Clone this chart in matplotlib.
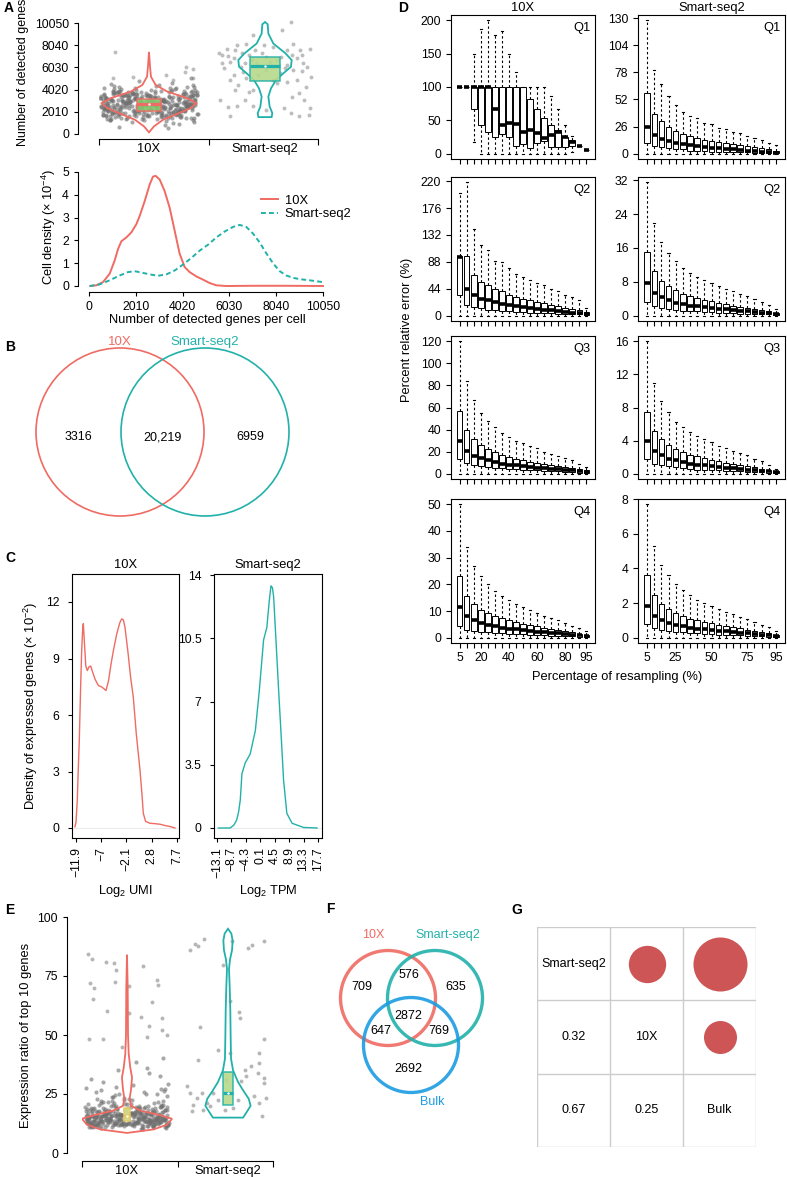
import numpy as np
import matplotlib
matplotlib.use('Agg')
import matplotlib.pyplot as plt
from matplotlib.patches import Circle, Rectangle

plt.rcParams['font.family'] = ['Liberation Sans', 'DejaVu Sans']
plt.rcParams['mathtext.fontset'] = 'custom'
plt.rcParams['mathtext.rm'] = 'Liberation Sans'
plt.rcParams['mathtext.it'] = 'Liberation Sans:italic'
plt.rcParams['font.size'] = 9
plt.rcParams['axes.linewidth'] = 0.8
plt.rcParams['xtick.major.width'] = 0.8
plt.rcParams['ytick.major.width'] = 0.8
plt.rcParams['xtick.major.size'] = 3
plt.rcParams['ytick.major.size'] = 3
plt.rcParams['xtick.labelsize'] = 8.8
plt.rcParams['ytick.labelsize'] = 8.8

RED = '#EF6B63'
TEAL = '#22B1AA'
BLUE = '#1C9BE2'
GREY = '#6f6f6f'
LAB = 9.3

# ---------------- data ----------------
groups = ['10X', 'Smart-seq2']

# jitter offsets used for the 10X point clouds
jit_10x = [-0.38, 0.12, -0.05, 0.33, -0.21, 0.27, -0.33, 0.02, 0.19, -0.14,
           0.40, -0.27, 0.08, -0.41, 0.23, -0.09, 0.35, -0.18, 0.15, -0.30,
           0.05, 0.29, -0.36, 0.21, -0.02, -0.24, 0.38, 0.10, -0.12, 0.31,
           -0.19, 0.17, -0.39, 0.26, 0.00, -0.29, 0.36, -0.07, 0.22, -0.34,
           0.09, -0.16, 0.41, -0.25, 0.14, -0.37, 0.30, -0.03, 0.24, -0.11,
           0.34, -0.40, 0.06, -0.20, 0.28, -0.32, 0.18, -0.08, 0.39, -0.26,
           0.01, 0.25, -0.15, 0.37, -0.35, 0.11, -0.23, 0.32, -0.01, 0.20,
           -0.28, 0.07, -0.42, 0.16, 0.36, -0.10, 0.27, -0.31, 0.04, -0.17,
           0.22, -0.06, 0.40, -0.38, 0.13, -0.26, 0.33, -0.13, 0.08, 0.29,
           -0.22, 0.18, -0.34, 0.03, 0.41, -0.04, 0.24, -0.39, 0.15, -0.27,
           0.32, -0.12, 0.10, -0.30, 0.20, -0.18, 0.38, -0.08, 0.26, -0.36,
           0.06, -0.24, 0.35, -0.01, 0.17, -0.41, 0.12, -0.20, 0.30, -0.05,
           -0.33, 0.23, -0.11, 0.39, -0.28, 0.02, 0.31, -0.16, 0.09, -0.37,
           0.14, -0.02, 0.28, -0.23, 0.37, -0.14, 0.19, -0.32, 0.05, 0.34,
           -0.09, 0.21, -0.40, 0.11, -0.19, 0.30, -0.06, 0.40, -0.25, 0.16,
           -0.35, 0.04, 0.26, -0.12, 0.35, -0.29, 0.13, -0.03, 0.22, -0.21,
           0.38, -0.15, 0.07, -0.34, 0.25, -0.07, 0.33, -0.38, 0.17, 0.00,
           -0.17, 0.31, -0.26, 0.10, -0.40, 0.21, -0.10, 0.36, -0.31, 0.12]

# A: detected genes per cell, 10X
a_10x_y = [2450, 3120, 1780, 2890, 3560, 2210, 1340, 2670, 3890, 2040,
           2980, 1620, 3310, 2520, 4210, 1890, 2760, 3450, 1150, 2330,
           3680, 2150, 2840, 960, 3020, 2580, 4470, 1720, 3240, 2690,
           1480, 3830, 2290, 3150, 2730, 1960, 3410, 2410, 4050, 1250,
           2870, 3570, 1830, 2480, 780, 3260, 2110, 3720, 2600, 1590,
           3360, 2020, 4330, 2780, 1690, 3050, 2350, 2930, 1410, 3640,
           2230, 3180, 1060, 3930, 2560, 1910, 3490, 2810, 2190, 4620,
           2640, 1370, 3280, 2060, 3760, 2440, 1540, 3020, 2900, 3380,
           1810, 2710, 3990, 2270, 3130, 620, 2500, 3610, 1950, 2830,
           3470, 2380, 1230, 2950, 3820, 2120, 2660, 4180, 1640, 3090,
           2540, 3300, 2000, 3700, 1460, 2820, 3530, 2260, 890, 3200,
           1910, 4090, 2710, 1750, 3380, 2470, 3010, 1320, 3860, 2620,
           3160, 2300, 3590, 1100, 2750, 3940, 2080, 2860, 4410, 1670,
           2420, 3430, 1520, 2990, 2180, 3660, 2570, 1840, 3270, 2700,
           4760, 1980, 3080, 2390, 3510, 2920, 1400, 3750, 2240, 540,
           2800, 3350, 1700, 4150, 2520, 1890, 3000, 3560, 2140, 2650,
           1290, 3790, 2460, 3210, 1930, 2880, 4280, 2310, 3420, 1600,
           3060, 2160, 3870, 1560, 2740, 3330, 2050, 5050, 2600, 3110]
# second pass of 10X cells (same jitter pattern, mirrored)
a_10x_y2 = [2780, 1950, 3390, 2210, 2660, 3840, 2490, 1610, 3050, 2920,
            1720, 3260, 2380, 3570, 1880, 2730, 2090, 4120, 2540, 3310,
            2170, 3690, 1460, 2840, 3470, 2010, 3010, 2630, 1530, 3920,
            3240, 2350, 4260, 1790, 2970, 3580, 1330, 2810, 2400, 3130,
            2050, 2890, 3450, 1990, 3720, 2320, 4380, 1860, 3360, 2570,
            1620, 3170, 2530, 3960, 2240, 1410, 3300, 2700, 3610, 2110,
            3530, 2200, 2960, 1710, 3100, 4010, 2600, 1950, 3410, 2470,
            2310, 3790, 1840, 2990, 2640, 3200, 1970, 3680, 1250, 2750,
            3000, 2430, 1690, 3520, 2180, 2860, 4530, 2290, 3150, 1580,
            2690, 3830, 2450, 1830, 3270, 2590, 1490, 3060, 3710, 2150,
            1930, 2560, 3640, 2340, 2890, 1600, 3380, 2080, 4220, 2720,
            3470, 1780, 2270, 3230, 2610, 3560, 1900, 2950, 2440, 3880,
            2530, 3120, 1680, 3490, 2120, 2580, 3780, 1460, 2830, 3340,
            3040, 2230, 3770, 1740, 3290, 2370, 2820, 3610, 1550, 2480,
            2140, 3540, 2650, 3180, 1870, 4040, 2510, 2330, 3450, 2920,
            3410, 2680, 1820, 2960, 2100, 3660, 1700, 3090, 2770, 1980,
            2600, 1760, 3250, 2430, 3850, 2060, 3020, 2500, 1640, 3570,
            1890, 3600, 2360, 3350, 2810, 1920, 3930, 2190, 2970, 3280]
a_10x_out_x = [-0.29, 0.32, 0.38, 0.31, 0.15, -0.31, 0.21, -0.14, 0.38]
a_10x_out_y = [7380, 6090, 5880, 5640, 5340, 5040, 4890, 5190, 5040]

a_ss2_x = [-0.40, -0.37, -0.32, -0.30, -0.27, -0.24, -0.16, -0.37, -0.39, -0.32,
           -0.24, -0.30, -0.14, -0.21, -0.19, -0.11, -0.07, 0.04, 0.10, 0.16,
           0.15, 0.22, 0.19, 0.24, 0.28, 0.32, 0.33, 0.36, 0.39, 0.40,
           0.35, 0.39, 0.38, 0.29, 0.23, 0.19, 0.28, 0.32, 0.23, 0.07,
           -0.01, -0.10, -0.20, -0.26, -0.33, -0.23, -0.16, -0.10, -0.06, 0.01,
           0.06, 0.10, 0.14, 0.17, 0.13, 0.07, 0.01, -0.03, -0.09, -0.14,
           -0.27, -0.30, -0.26, -0.17, -0.10, 0.01, 0.22, 0.34, 0.29, 0.24,
           0.19, 0.30, -0.35, -0.17]
a_ss2_y = [7290, 7140, 7050, 6540, 6840, 8040, 8130, 6390, 3090, 2430,
           2550, 1590, 3840, 6090, 5640, 6690, 6390, 6540, 4590, 2340,
           9450, 10140, 7590, 8190, 6840, 7140, 6390, 6090, 7740, 5190,
           4230, 2340, 1740, 1590, 3330, 4740, 4890, 5730, 7140, 7890,
           8040, 8940, 7290, 7590, 7740, 4440, 5040, 3990, 5340, 5790,
           6090, 6690, 6990, 5940, 5490, 4890, 6990, 7290, 7590, 7140,
           5340, 4890, 3990, 3090, 2490, 2190, 1890, 3090, 3690, 5790,
           6240, 7590, 5940, 6390]

# violin outlines (value, half width)
vio_a_10x_y = [150, 690, 1290, 1890, 2340, 2790, 3240, 3840, 4440, 5190, 6090, 7440]
vio_a_10x_w = [0.0, 0.043, 0.121, 0.259, 0.359, 0.408, 0.330, 0.158, 0.057, 0.017, 0.009, 0.0]
vio_a_ss2_y = [1530, 1890, 2490, 3390, 4140, 4890, 5490, 6090, 6690, 7290, 8190, 9090, 9930, 10140]
vio_a_ss2_w = [0.057, 0.063, 0.040, 0.029, 0.052, 0.095, 0.158, 0.224, 0.230, 0.178, 0.072, 0.029, 0.023, 0.0]
box_a_10x = [2100, 2700, 3150]
box_a_ss2 = [4800, 6200, 6950]

# A bottom: cell density curves
dens_10x_x = [57, 315, 601, 888, 1103, 1246, 1389, 1604, 1818, 2033, 2176, 2391, 2606,
              2749, 2864, 3036, 3250, 3465, 3680, 3894, 4109, 4324, 4610, 4896, 5183,
              5469, 5898, 7000, 8500, 10050]
dens_10x_y = [0.0, 0.03, 0.17, 0.54, 1.12, 1.62, 1.96, 2.13, 2.35, 2.71, 3.07, 3.72, 4.45,
              4.80, 4.83, 4.67, 4.16, 3.43, 2.42, 1.41, 0.83, 0.61, 0.42, 0.28, 0.13,
              0.03, 0.0, 0.01, 0.01, 0.0]
dens_ss2_x = [29, 458, 888, 1317, 1675, 1961, 2248, 2606, 2964, 3322, 3680, 4038, 4396,
              4753, 5111, 5469, 5827, 6185, 6471, 6757, 7044, 7330, 7616, 7903, 8189,
              8475, 8762, 9048, 9478, 10050]
dens_ss2_y = [0.0, 0.07, 0.25, 0.46, 0.61, 0.65, 0.59, 0.51, 0.45, 0.51, 0.68, 0.94, 1.23,
              1.55, 1.81, 2.13, 2.39, 2.59, 2.68, 2.59, 2.30, 1.91, 1.43, 1.00, 0.65,
              0.46, 0.36, 0.30, 0.25, 0.17]

# B: genes detected
venn_b = {'10X': 3316, 'both': '20,219', 'Smart-seq2': 6959}

# C: density of expressed genes
c_10x_x = [-12.1, -11.9, -11.65, -11.45, -11.26, -11.0, -10.8, -10.6, -10.48, -10.3, -10.0,
           -9.7, -9.4, -9.05, -8.7, -8.2, -7.57, -7.0, -6.5, -6.08, -5.6, -5.1, -4.66,
           -4.0, -3.4, -3.03, -2.7, -2.39, -1.8, -1.3, -0.78, -0.2, 0.52, 0.9, 1.16, 1.6,
           2.46, 3.4, 4.4, 5.4, 6.34, 7.3]
c_10x_y = [0.07, 0.3, 1.48, 3.2, 4.66, 7.5, 9.4, 10.6, 10.85, 10.0, 8.6,
           8.36, 8.55, 8.6, 8.3, 7.9, 7.57, 7.5, 7.4, 7.3, 7.8, 8.7, 9.4,
           10.3, 10.9, 11.1, 11.05, 10.65, 9.3, 8.0, 6.94, 5.0, 3.07, 1.8, 0.78, 0.35,
           0.25, 0.23, 0.2, 0.13, 0.08, 0.0]
c_ss2_x = [-12.7, -9.1, -8.0, -7.1, -6.5, -6.0, -5.5, -4.5, -2.97, -1.4, -0.2, 1.1, 2.1,
           2.8, 3.36, 3.8, 4.17, 5.0, 5.7, 6.5, 7.2, 8.2, 9.8, 13.3, 17.4]
c_ss2_y = [0.0, 0.0, 0.15, 0.44, 0.9, 1.55, 3.0, 3.6, 4.1, 5.4, 7.6, 10.4, 11.1,
           12.5, 13.4, 13.3, 12.8, 10.0, 7.6, 5.0, 2.65, 0.81, 0.26, 0.03, 0.0]
c_10x_ticks = [-11.9, -7, -2.1, 2.8, 7.7]
c_ss2_ticks = [-13.1, -8.7, -4.3, 0.1, 4.5, 8.9, 13.3, 17.7]

# D: percent relative error, (whisker low, Q1, median, Q3, whisker high) per resampling level
resample_pct = [5, 10, 15, 20, 25, 30, 35, 40, 45, 50, 55, 60, 65, 70, 75, 80, 85, 90, 95]
q1_10x = [(100, 100, 100, 100, 100), (100, 100, 100, 100, 100), (17, 67, 100, 100, 150),
          (0, 43, 100, 100, 187), (0, 33, 100, 100, 200), (0, 25, 67, 100, 178),
          (0, 30, 43, 100, 184), (0, 25, 46, 100, 150), (0, 11, 45, 100, 122),
          (0, 14, 33, 100, 100), (0, 9, 36, 82, 100), (0, 16, 31, 67, 100),
          (0, 19, 23, 53, 100), (0, 10, 28, 43, 86), (0, 10, 33, 36, 67),
          (0, 10, 25, 25, 43), (3, 12, 17, 20, 27), (11, 11, 11, 11, 11), (5, 5, 5, 5, 5)]
q1_ss2 = [(0, 10, 26, 58, 128), (0, 7, 18, 38, 80), (0, 6, 14, 31, 67), (0, 5, 12, 26, 55),
          (0, 4, 10, 22, 47), (0, 4, 9, 19, 40), (0, 3, 8, 17, 36), (0, 3, 7, 15, 34),
          (0, 3, 6, 13, 29), (0, 2, 5, 12, 28), (0, 2, 5, 11, 25), (0, 2, 4, 10, 24),
          (0, 2, 4, 9, 21), (0, 1.5, 3.5, 8, 20), (0, 1.5, 3, 7, 17), (0, 1, 2.5, 6, 15),
          (0, 1, 2, 5, 13), (0, 1, 2, 4, 10), (0, 0.5, 1, 3, 8)]
q2_10x = [(0, 33, 96, 97, 200), (0, 17, 43, 97, 218), (0, 14, 33, 67, 142), (0, 12, 28, 55, 115),
          (0, 10, 25, 50, 107), (0, 9, 22, 44, 90), (0, 8, 19, 40, 88), (0, 7, 17, 34, 78),
          (0, 6, 15, 31, 68), (0, 6, 14, 28, 64), (0, 5, 12, 25, 58), (0, 5, 11, 23, 54),
          (0, 4, 10, 20, 50), (0, 4, 9, 18, 43), (0, 3, 7, 15, 40), (0, 3, 6, 13, 34),
          (0, 2, 5, 11, 30), (0, 2, 4, 9, 25), (0, 1, 3, 6, 12)]
q2_ss2 = [(0, 3.3, 7.7, 15, 31.5), (0, 2.2, 5.3, 10.5, 22), (0, 1.8, 4.3, 8.2, 17.5),
          (0, 1.6, 3.6, 7, 14.8), (0, 1.4, 3.1, 6, 13), (0, 1.2, 2.8, 5.2, 11.2),
          (0, 1.1, 2.4, 4.7, 10), (0, 1.0, 2.2, 4.2, 9.2), (0, 0.9, 2.0, 3.7, 8.4),
          (0, 0.8, 1.8, 3.4, 7.7), (0, 0.7, 1.6, 3.0, 7.0), (0, 0.7, 1.5, 2.7, 6.3),
          (0, 0.6, 1.3, 2.4, 5.8), (0, 0.5, 1.2, 2.1, 5.2), (0, 0.5, 1.0, 1.9, 4.6),
          (0, 0.4, 0.9, 1.6, 4.0), (0, 0.3, 0.7, 1.3, 3.3), (0, 0.3, 0.6, 1.0, 2.5),
          (0, 0.2, 0.4, 0.7, 1.6)]
q3_10x = [(0, 13, 30, 57, 120), (0, 10, 21, 40, 84), (0, 8, 16, 31, 67), (0, 7, 14, 26, 55),
          (0, 6, 12, 22, 48), (0, 5, 11, 20, 42), (0, 5, 9, 17, 37), (0, 4, 8, 15, 33),
          (0, 4, 7.5, 13, 30), (0, 3.5, 7, 12, 28), (0, 3, 6, 11, 25), (0, 3, 5.5, 10, 23),
          (0, 2.5, 5, 9, 20), (0, 2, 4, 8, 18), (0, 2, 4, 7, 16), (0, 1.5, 3, 6, 14),
          (0, 1.5, 3, 5, 12), (0, 1, 2, 4, 9), (0, 0.5, 1.5, 3, 6)]
q3_ss2 = [(0, 1.8, 4.0, 7.5, 16), (0, 1.2, 2.8, 5.2, 11), (0, 1.0, 2.2, 4.2, 8.8),
          (0, 0.9, 1.8, 3.5, 7.4), (0, 0.8, 1.6, 3.0, 6.3), (0, 0.7, 1.4, 2.6, 5.6),
          (0, 0.6, 1.2, 2.3, 5.0), (0, 0.5, 1.1, 2.1, 4.6), (0, 0.5, 1.0, 1.9, 4.2),
          (0, 0.4, 0.9, 1.7, 3.8), (0, 0.4, 0.8, 1.5, 3.4), (0, 0.35, 0.7, 1.35, 3.1),
          (0, 0.3, 0.65, 1.2, 2.8), (0, 0.3, 0.6, 1.05, 2.5), (0, 0.25, 0.5, 0.9, 2.2),
          (0, 0.2, 0.4, 0.75, 1.8), (0, 0.15, 0.35, 0.6, 1.5), (0, 0.1, 0.3, 0.45, 1.1),
          (0, 0.05, 0.2, 0.3, 0.6)]
q4_10x = [(0, 4.5, 11.5, 23, 50), (0, 3, 8, 15.5, 34), (0, 2.5, 6.5, 12.5, 27), (0, 2.2, 5.5, 10.5, 23),
          (0, 2, 4.8, 9.3, 20), (0, 1.8, 4.3, 8, 17.5), (0, 1.6, 3.8, 7.2, 15.5), (0, 1.4, 3.4, 6.5, 14),
          (0, 1.3, 3.1, 5.8, 12.5), (0, 1.2, 2.8, 5.2, 11.5), (0, 1.1, 2.5, 4.7, 10.5),
          (0, 1.0, 2.3, 4.2, 9.3), (0, 0.9, 2.0, 3.8, 8.3), (0, 0.8, 1.8, 3.3, 7.5),
          (0, 0.7, 1.6, 2.9, 6.5), (0, 0.6, 1.3, 2.4, 5.5), (0, 0.5, 1.1, 2.0, 4.5),
          (0, 0.4, 0.9, 1.5, 3.5), (0, 0.2, 0.6, 1.0, 2.5)]
q4_ss2 = [(0, 0.8, 1.85, 3.6, 7.7), (0, 0.55, 1.25, 2.45, 5.3), (0, 0.45, 1.0, 1.95, 4.2),
          (0, 0.4, 0.85, 1.65, 3.6), (0, 0.35, 0.75, 1.4, 3.1), (0, 0.3, 0.65, 1.25, 2.75),
          (0, 0.28, 0.58, 1.1, 2.45), (0, 0.25, 0.52, 1.0, 2.2), (0, 0.23, 0.48, 0.9, 2.0),
          (0, 0.2, 0.44, 0.82, 1.82), (0, 0.18, 0.4, 0.75, 1.65), (0, 0.17, 0.36, 0.68, 1.5),
          (0, 0.15, 0.33, 0.6, 1.35), (0, 0.13, 0.29, 0.53, 1.2), (0, 0.12, 0.26, 0.46, 1.05),
          (0, 0.1, 0.22, 0.4, 0.9), (0, 0.08, 0.18, 0.33, 0.75), (0, 0.06, 0.15, 0.26, 0.6),
          (0, 0.04, 0.1, 0.18, 0.4)]

# E: expression ratio of top 10 genes
e_10x_y = [15.2, 17.8, 12.4, 19.6, 14.1, 21.3, 13.5, 16.7, 24.8, 11.9,
           18.4, 13.0, 15.9, 27.5, 12.8, 16.3, 20.1, 14.6, 10.8, 17.2,
           22.6, 14.9, 18.9, 11.4, 16.0, 30.2, 13.8, 19.1, 15.5, 12.1,
           13.3, 25.7, 16.8, 14.4, 20.7, 12.6, 17.5, 15.0, 33.9, 11.2,
           16.5, 19.9, 13.1, 15.7, 10.3, 18.2, 14.8, 23.4, 16.1, 12.9,
           20.4, 14.2, 28.8, 17.0, 12.3, 15.4, 19.3, 13.7, 11.6, 21.9,
           14.7, 18.6, 11.0, 26.3, 15.8, 13.4, 17.7, 16.4, 12.5, 36.1,
           17.3, 12.2, 19.7, 14.3, 22.2, 15.6, 11.8, 18.0, 16.9, 13.9,
           12.7, 16.2, 24.1, 15.1, 19.0, 10.6, 14.5, 21.0, 13.2, 17.6,
           18.8, 15.3, 11.5, 17.1, 29.4, 13.6, 16.6, 20.9, 12.0, 14.0,
           15.9, 19.4, 13.0, 23.0, 11.3, 16.8, 18.3, 14.6, 10.9, 31.5,
           13.5, 21.6, 17.4, 12.4, 15.0, 14.9, 19.8, 11.7, 25.2, 16.3,
           19.2, 14.1, 16.0, 10.5, 17.9, 22.9, 13.3, 15.7, 38.4, 12.8,
           14.4, 18.1, 12.6, 16.5, 13.8, 20.3, 15.2, 11.9, 17.0, 27.0,
           35.0, 13.1, 18.7, 14.8, 21.5, 16.1, 12.2, 19.5, 13.7, 10.2,
           16.9, 20.6, 11.4, 24.5, 15.5, 12.9, 17.3, 22.4, 14.2, 15.8,
           11.1, 23.7, 15.3, 18.5, 13.4, 16.7, 32.8, 14.0, 19.0, 12.3,
           17.7, 13.9, 26.7, 12.7, 16.2, 20.0, 13.0, 40.3, 15.6, 18.9]
e_10x_y2 = [14.3, 12.1, 16.9, 13.6, 18.2, 11.5, 15.4, 20.8, 13.0, 16.1,
            12.8, 17.4, 14.0, 11.7, 15.8, 19.3, 13.2, 16.6, 22.1, 14.7,
            16.3, 11.9, 14.5, 17.9, 13.4, 12.2, 15.1, 18.6, 12.9, 26.0,
            17.0, 14.8, 12.5, 21.2, 15.6, 13.8, 11.3, 16.4, 14.1, 19.7,
            12.0, 15.3, 17.6, 13.1, 23.8, 14.6, 16.0, 12.4, 18.9, 13.5,
            15.7, 11.8, 14.4, 16.8, 20.2, 12.7, 13.9, 17.2, 15.0, 11.4,
            18.1, 13.3, 15.9, 12.3, 14.2, 28.1, 16.5, 11.6, 19.0, 14.9,
            13.7, 16.2, 12.6, 15.5, 11.1, 17.8, 14.3, 21.7, 13.0, 15.2,
            16.7, 12.2, 14.0, 18.4, 13.6, 15.8, 11.9, 16.9, 24.9, 12.8,
            14.5, 17.3, 13.2, 11.5, 15.6, 19.6, 12.5, 14.8, 16.1, 13.9,
            12.1, 15.0, 18.7, 14.2, 16.4, 13.4, 11.2, 17.5, 15.3, 20.5,
            15.9, 13.1, 12.4, 16.6, 14.6, 12.0, 17.1, 13.7, 15.4, 11.8,
            13.3, 16.3, 14.7, 12.6, 19.1, 15.1, 13.8, 11.4, 16.8, 14.1,
            17.7, 12.9, 15.7, 13.5, 11.7, 14.4, 18.3, 16.0, 12.3, 15.5,
            12.7, 14.9, 16.2, 19.9, 13.0, 11.6, 15.8, 13.6, 17.4, 14.0,
            15.2, 12.2, 13.9, 16.7, 18.0, 14.3, 12.8, 15.9, 11.0, 16.4,
            14.8, 17.2, 12.0, 13.7, 15.6, 11.3, 14.5, 27.3, 13.1, 16.9,
            13.4, 15.1, 17.8, 14.2, 12.5, 16.5, 18.8, 13.2, 14.7, 12.1]
e_10x_out_x = [-0.39, -0.35, -0.37, -0.33, -0.34, -0.21, -0.13, -0.11, -0.12, -0.20, -0.38, -0.24,
               0.16, 0.30, 0.31, 0.25, 0.14, 0.22, 0.35, 0.35, 0.40, 0.20, 0.02, 0.02, -0.05]
e_10x_out_y = [84.3, 82.0, 72.0, 70.0, 65.4, 81.0, 80.5, 77.7, 72.3, 60.0, 48.3, 48.3,
               79.4, 73.4, 71.3, 63.8, 57.6, 53.7, 57.2, 52.3, 50.1, 49.2, 70.6, 59.3, 45.0]
e_ss2_x = [-0.38, -0.33, -0.24, -0.30, -0.05, 0.04, 0.20, 0.24, 0.36, 0.02, 0.11, 0.12, -0.28,
           -0.10, 0.36, -0.30, 0.31, 0.31, 0.30, 0.36, 0.36, 0.23, 0.17, 0.18, 0.13, -0.41,
           -0.38, -0.31, -0.35, -0.36, -0.25, -0.21, -0.15, -0.10, -0.03, 0.05, 0.10, 0.26,
           0.31, 0.38, 0.34, -0.02, 0.02, -0.18, -0.26]
e_ss2_y = [86.2, 88.7, 90.7, 87.6, 79.5, 90.0, 86.9, 88.0, 89.7, 64.3, 59.7, 57.2, 53.2,
           43.8, 48.3, 39.5, 42.4, 38.1, 33.9, 31.8, 29.7, 36.7, 35.3, 32.5, 30.4, 28.2,
           25.4, 23.3, 20.5, 17.7, 18.4, 21.2, 25.4, 22.6, 18.4, 19.1, 22.6, 24.0,
           21.2, 23.3, 15.5, 31.1, 42.4, 19.8, 25.4]
vio_e_10x_y = [8.5, 10, 12, 14.5, 16, 18, 20, 23, 27, 32, 36, 42, 50, 70, 84]
vio_e_10x_w = [0.0, 0.264, 0.396, 0.446, 0.33, 0.132, 0.04, 0.026, 0.04, 0.05, 0.033, 0.017, 0.01, 0.007, 0.0]
vio_e_ss2_y = [15, 17, 20, 23, 26, 30, 35, 40, 50, 60, 70, 78, 82, 86, 90, 93, 95]
vio_e_ss2_w = [0.149, 0.18, 0.224, 0.205, 0.158, 0.1, 0.05, 0.03, 0.026, 0.023, 0.017, 0.01,
               0.02, 0.04, 0.046, 0.033, 0.0]
box_e_10x = [13.5, 15.5, 19.0]
box_e_ss2 = [20.5, 25.5, 34.5]

# F: three-way overlap
venn_f_labels = ['10X', 'Smart-seq2', 'Bulk']
venn_f_counts = {'709': (362, 987), '576': (409, 975), '635': (456, 987), '2872': (408, 1016),
                 '647': (381, 1031), '769': (439, 1031), '2692': (408, 1069)}

# G: correlation between platforms
g_names = ['Smart-seq2', '10X', 'Bulk']
g_pairs = [(1, 0, 0.32), (2, 0, 0.67), (2, 1, 0.25)]

# ---------------- layout helpers ----------------
W, H = 787, 1177
fig = plt.figure(figsize=(W / 100, H / 100), dpi=100)


def px_axes(x0, y0, x1, y1):
    return fig.add_axes([x0 / W, 1 - y1 / H, (x1 - x0) / W, (y1 - y0) / H])


def px_lims(a, b, v0, p0, v1, p1):
    s = (v1 - v0) / (p1 - p0)
    return (v0 + (a - p0) * s, v0 + (b - p0) * s)


def violin(ax, c, ys, ws, color):
    ys = np.array(ys)
    ws = np.array(ws)
    xx = np.concatenate([c - ws, (c + ws)[::-1]])
    yy = np.concatenate([ys, ys[::-1]])
    ax.fill(xx, yy, facecolor='none', edgecolor=color, lw=1.3, zorder=4)


def small_box(ax, c, stats, hw, fc, ec):
    ax.add_patch(Rectangle((c - hw, stats[0]), 2 * hw, stats[2] - stats[0],
                           facecolor=fc, edgecolor=ec, lw=1.1, alpha=0.9, zorder=5))
    ax.plot([c - hw, c + hw], [stats[1], stats[1]], color=ec, lw=2.3, zorder=6,
            solid_capstyle='butt')
    ax.scatter([c], [stats[1]], s=3, color='white', zorder=7, lw=0)


def cat_axis(ax, left_px_offset):
    ax.spines['top'].set_visible(False)
    ax.spines['right'].set_visible(False)
    ax.spines['left'].set_position(('outward', left_px_offset * 0.72))
    xl = ax.get_xlim()
    ax.set_xticks([xl[0], (xl[0] + xl[1]) / 2, xl[1]], ['', '', ''])
    ax.tick_params(axis='x', which='major', length=4)
    ax.set_xticks([1, 2], groups, minor=True)
    ax.tick_params(axis='x', which='minor', length=0, pad=3, labelsize=LAB)


bg = fig.add_axes([0, 0, 1, 1])
bg.set_xlim(0, W)
bg.set_ylim(H, 0)
bg.axis('off')

for letter, (lx, ly) in {'A': (4, 8), 'B': (5, 347), 'C': (5, 558), 'D': (398, 8),
                         'E': (5, 910), 'F': (326, 909), 'G': (511, 910)}.items():
    bg.text(lx, ly, letter, fontsize=10, fontweight='bold', va='center', ha='left')

# ---------------- A top ----------------
ax = px_axes(99, 18, 318, 139)
ax.set_xlim(px_lims(99, 318, 1, 149, 2, 265))
ax.set_ylim(px_lims(139, 18, 0, 134, 10050, 23))
ax.scatter(1 + np.array(jit_10x), a_10x_y, s=9, color=GREY, alpha=0.6, lw=0, zorder=2)
ax.scatter(1 - np.array(jit_10x), a_10x_y2, s=9, color=GREY, alpha=0.6, lw=0, zorder=2)
ax.scatter(1 + np.array(a_10x_out_x), a_10x_out_y, s=8, color=GREY, alpha=0.45, lw=0, zorder=2)
ax.scatter(2 + np.array(a_ss2_x), a_ss2_y, s=8, color=GREY, alpha=0.45, lw=0, zorder=2)
violin(ax, 1, vio_a_10x_y, vio_a_10x_w, RED)
violin(ax, 2, vio_a_ss2_y, vio_a_ss2_w, TEAL)
small_box(ax, 1, box_a_10x, 0.106, '#84c56e', RED)
small_box(ax, 2, box_a_ss2, 0.13, '#b6d98a', TEAL)
ax.set_yticks([0, 2010, 4020, 6030, 8040, 10050])
ax.spines['left'].set_bounds(0, 10050)
cat_axis(ax, 21)
ax.set_ylabel('Number of detected genes', fontsize=9, labelpad=2)
ax.yaxis.set_label_coords(-0.32, 0.55)

# ---------------- A bottom ----------------
ax = px_axes(84, 165, 330, 288)
ax.set_xlim(px_lims(84, 330, 0, 89, 10050, 323))
ax.set_ylim(px_lims(288, 165, 0, 286, 5, 172))
ax.plot(dens_10x_x, dens_10x_y, color=RED, lw=1.4, label='10X')
ax.plot(dens_ss2_x, dens_ss2_y, color=TEAL, lw=1.4, ls=(0, (2.5, 1.6)), label='Smart-seq2')
ax.spines['top'].set_visible(False)
ax.spines['right'].set_visible(False)
ax.spines['left'].set_position(('outward', 6 * 0.72))
ax.spines['bottom'].set_position(('outward', 4 * 0.72))
ax.spines['left'].set_bounds(0, 5)
ax.spines['bottom'].set_bounds(0, 10050)
ax.set_xticks([0, 2010, 4020, 6030, 8040, 10050])
ax.set_yticks([0, 1, 2, 3, 4, 5])
ax.set_xlabel('Number of detected genes per cell', fontsize=LAB, labelpad=1)
ax.set_ylabel('Cell density (× 10$^{-4}$)', fontsize=LAB, labelpad=3)
ax.legend(loc='upper left', bbox_to_anchor=(0.70, 0.80), frameon=False, fontsize=LAB,
          handlelength=1.3, handletextpad=0.5, labelspacing=0.1, borderaxespad=0)

# ---------------- B ----------------
bg.add_patch(Circle((120, 432), 84, fill=False, ec=RED, lw=1.2))
bg.add_patch(Circle((205, 432), 84, fill=False, ec=TEAL, lw=1.2))
bg.text(120, 342, '10X', color=RED, ha='center', va='center', fontsize=9.5)
bg.text(205, 342, 'Smart-seq2', color=TEAL, ha='center', va='center', fontsize=9.5)
bg.text(78, 437, str(venn_b['10X']), ha='center', va='center', fontsize=9)
bg.text(163, 437, venn_b['both'], ha='center', va='center', fontsize=9)
bg.text(250, 437, str(venn_b['Smart-seq2']), ha='center', va='center', fontsize=9)

# ---------------- C ----------------
c_specs = [(72, 179, c_10x_x, c_10x_y, RED, c_10x_ticks, [0, 3, 6, 9, 12],
            (-11.9, 76, 7.7, 177), (0, 828, 12, 602), '10X', 'Log$_2$ UMI'),
           (214, 322, c_ss2_x, c_ss2_y, TEAL, c_ss2_ticks, [0, 3.5, 7, 10.5, 14],
            (-13.1, 217, 17.7, 318), (0, 828, 14, 575), 'Smart-seq2', 'Log$_2$ TPM')]
for x0, x1, cx, cy, col, xt, yt, xm, ym, title, xlab in c_specs:
    ax = px_axes(x0, 574, x1, 838)
    ax.set_xlim(px_lims(x0, x1, *xm))
    ax.set_ylim(px_lims(838, 574, *ym))
    ax.axhline(0, color='#e6e6e6', lw=0.6, zorder=1)
    ax.plot(cx, cy, color=col, lw=1.0, zorder=2)
    ax.set_xticks(xt, [str(t).replace('-', '\u2212') for t in xt], rotation=90)
    ax.set_yticks(yt, [('%g' % t) for t in yt])
    ax.set_title(title, fontsize=LAB, pad=4)
    ax.set_xlabel(xlab, fontsize=LAB, labelpad=4)
    ax.tick_params(axis='y', pad=6)
    if title == '10X':
        ax.set_ylabel('Density of expressed genes (× 10$^{-2}$)', fontsize=LAB, labelpad=4)

# ---------------- D ----------------
d_specs = [(q1_10x, [0, 50, 100, 150, 200], 0, 0, 'Q1'), (q1_ss2, [0, 26, 52, 78, 104, 130], 0, 1, 'Q1'),
           (q2_10x, [0, 44, 88, 132, 176, 220], 1, 0, 'Q2'), (q2_ss2, [0, 8, 16, 24, 32], 1, 1, 'Q2'),
           (q3_10x, [0, 20, 40, 60, 80, 100, 120], 2, 0, 'Q3'), (q3_ss2, [0, 4, 8, 12, 16], 2, 1, 'Q3'),
           (q4_10x, [0, 10, 20, 30, 40, 50], 3, 0, 'Q4'), (q4_ss2, [0, 2, 4, 6, 8], 3, 1, 'Q4')]
row_px = [(15, 159), (177, 321), (336, 479), (499, 643)]
col_px = [(451, 595), (638, 785)]
bottom_labels = [{5: '5', 20: '20', 40: '40', 60: '60', 80: '80', 95: '95'},
                 {5: '5', 25: '25', 50: '50', 75: '75', 95: '95'}]
n = len(resample_pct)
for data, yt, r, c, qname in d_specs:
    ax = px_axes(col_px[c][0], row_px[r][0], col_px[c][1], row_px[r][1])
    stats = [dict(whislo=s[0], q1=s[1], med=s[2], q3=s[3], whishi=s[4], fliers=[]) for s in data]
    ax.bxp(stats, positions=range(1, n + 1), widths=0.75, patch_artist=True, showfliers=False,
           boxprops=dict(facecolor='white', edgecolor='black', linewidth=0.7),
           medianprops=dict(color='black', linewidth=2.6, solid_capstyle='butt'),
           whiskerprops=dict(color='black', linewidth=0.8, linestyle=(0, (2.2, 2.2))),
           capprops=dict(color='black', linewidth=0.8), capwidths=0.3, manage_ticks=False)
    lo = min(s[0] for s in data)
    hi = max(s[4] for s in data)
    ax.set_ylim(lo - 0.04 * (hi - lo), hi + 0.04 * (hi - lo))
    ax.set_xlim(0.5 - 0.04 * n, n + 0.5 + 0.04 * n)
    ax.set_yticks(yt)
    labs = bottom_labels[c] if r == 3 else {}
    ax.set_xticks(range(1, n + 1), [labs.get(p, '') for p in resample_pct])
    ax.tick_params(axis='both', length=3.5)
    ax.tick_params(axis='x', pad=3)
    ax.text(0.97, 0.95, qname, transform=ax.transAxes, ha='right', va='top', fontsize=LAB)
    if r == 0:
        ax.set_title(groups[c], fontsize=LAB, pad=3)

fig.text(407 / W, 1 - 330 / H, 'Percent relative error (%)', rotation=90, ha='center',
         va='center', fontsize=LAB)
fig.text(617 / W, 1 - 677 / H, 'Percentage of resampling (%)', ha='center', va='center',
         fontsize=LAB)

# ---------------- E ----------------
ax = px_axes(82, 910, 273, 1161)
ax.set_xlim(px_lims(82, 273, 1, 127, 2, 228))
ax.set_ylim(px_lims(1161, 910, 0, 1153, 100, 917))
ax.scatter(1 + np.array(jit_10x), e_10x_y, s=9, color=GREY, alpha=0.6, lw=0, zorder=2)
ax.scatter(1 - np.array(jit_10x), e_10x_y2, s=9, color=GREY, alpha=0.6, lw=0, zorder=2)
ax.scatter(1 + np.array(e_10x_out_x), e_10x_out_y, s=8, color=GREY, alpha=0.5, lw=0, zorder=2)
ax.scatter(2 + np.array(e_ss2_x), e_ss2_y, s=8, color=GREY, alpha=0.5, lw=0, zorder=2)
violin(ax, 1, vio_e_10x_y, vio_e_10x_w, RED)
violin(ax, 2, vio_e_ss2_y, vio_e_ss2_w, TEAL)
small_box(ax, 1, box_e_10x, 0.03, '#d9df8c', '#e8c95a')
small_box(ax, 2, box_e_ss2, 0.05, '#b6d98a', TEAL)
ax.set_yticks([0, 25, 50, 75, 100])
ax.spines['left'].set_bounds(0, 100)
cat_axis(ax, 15)
ax.set_ylabel('Expression ratio of top 10 genes', fontsize=LAB, labelpad=4)

# ---------------- F ----------------
for (cx, cy), col in zip([(388, 998), (435, 998), (411, 1045)], [RED, TEAL, BLUE]):
    bg.add_patch(Circle((cx, cy), 47.5, fill=False, ec=col, lw=2.4, alpha=0.9))
for name, (tx, ty), col in zip(venn_f_labels, [(373, 935), (448, 935), (432, 1102)],
                               [RED, TEAL, BLUE]):
    bg.text(tx, ty, name, color=col, ha='center', va='center', fontsize=9)
for txt, (tx, ty) in venn_f_counts.items():
    bg.text(tx, ty, txt, ha='center', va='center', fontsize=9)

# ---------------- G ----------------
ax = px_axes(537, 927, 756, 1147)
ax.set_xlim(0, 3)
ax.set_ylim(3, 0)
for k in range(4):
    ax.axhline(k, color='#cccccc', lw=1.0)
    ax.axvline(k, color='#cccccc', lw=1.0)
for sp in ax.spines.values():
    sp.set_visible(False)
ax.set_xticks([])
ax.set_yticks([])
for i, name in enumerate(g_names):
    ax.text(i + 0.5, i + 0.5, name, ha='center', va='center', fontsize=9)
for r, c, v in g_pairs:
    ax.text(c + 0.5, r + 0.5, '%.2f' % v, ha='center', va='center', fontsize=9)
    ax.scatter([r + 0.5], [c + 0.5], s=2260 * v, color='#CD5555', lw=0)

fig.savefig('out.png', dpi=100)
